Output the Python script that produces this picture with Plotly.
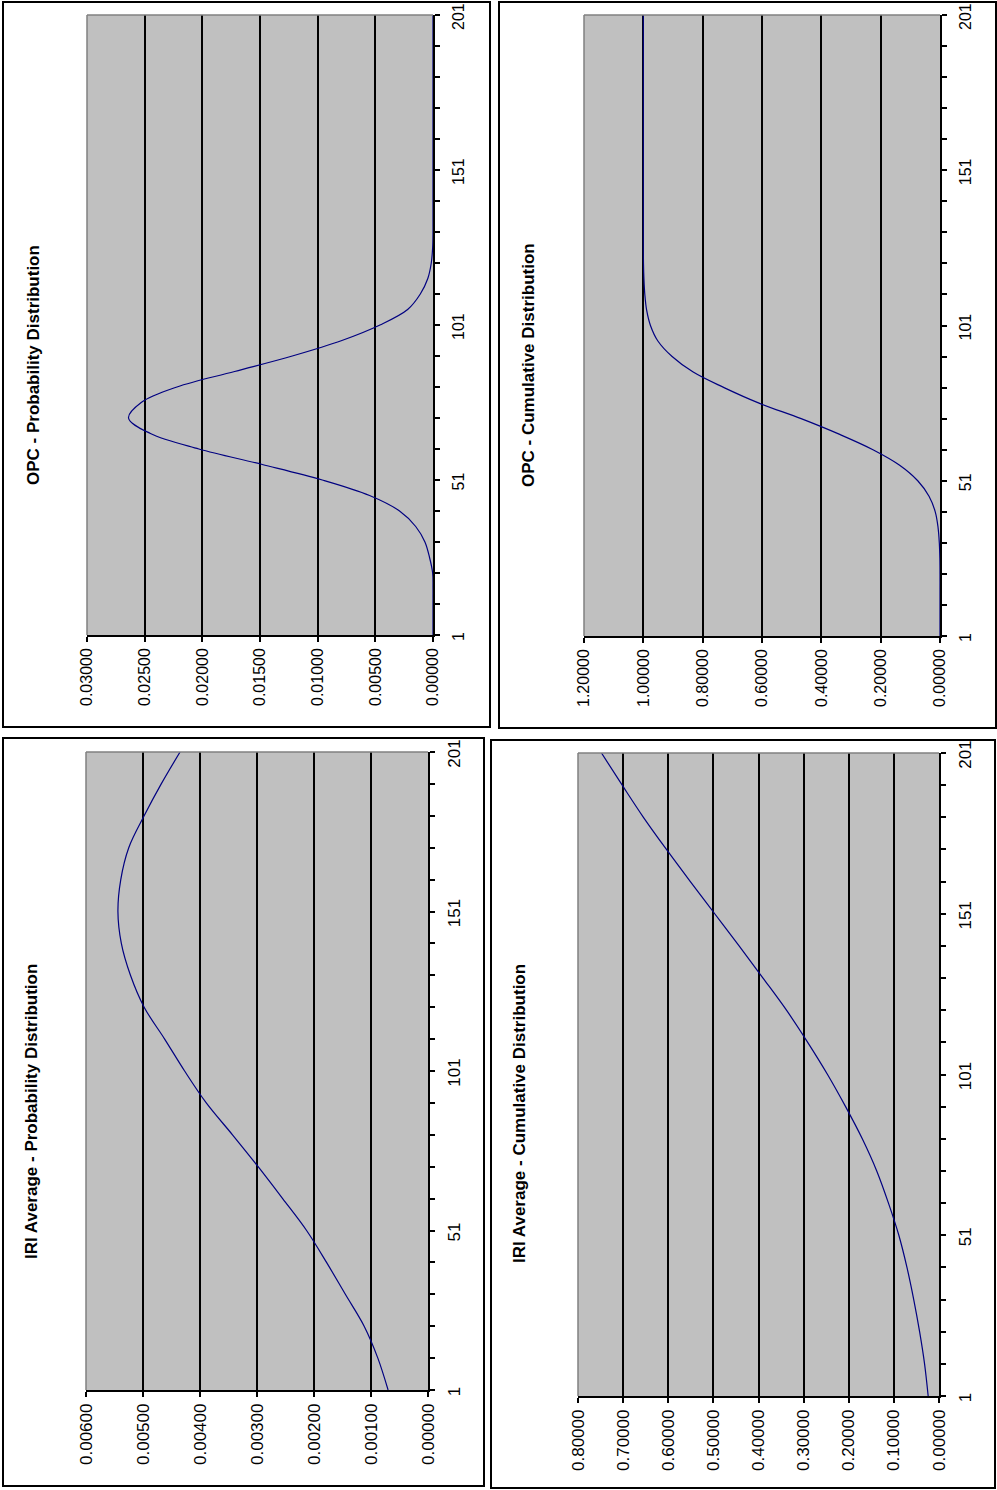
import plotly.graph_objects as go

opc_idx = list(range(1, 202, 5))
iri_idx = list(range(1, 202, 10))
index_ticks = [1, 51, 101, 151, 201]

opc_prob = [0, 0, 0, 0, 0.00003, 0.0003, 0.0007, 0.0015, 0.0029, 0.0055,
            0.0096, 0.0148, 0.0203, 0.0245, 0.0264, 0.0253, 0.0222, 0.0172,
            0.0122, 0.0079, 0.0046, 0.0022, 0.0011, 0.00045, 0.00015,
            0.00003, 0, 0, 0, 0, 0, 0, 0, 0, 0, 0, 0, 0, 0, 0, 0]

opc_cum = [0, 0, 0, 0, 0, 0.0005, 0.0023, 0.0066, 0.016, 0.037,
           0.075, 0.136, 0.226, 0.34, 0.468, 0.61, 0.728, 0.832,
           0.903, 0.951, 0.976, 0.989, 0.995, 0.998, 0.9995,
           1.0, 1.0, 1.0, 1.0, 1.0, 1.0, 1.0, 1.0, 1.0, 1.0, 1.0, 1.0, 1.0, 1.0, 1.0, 1.0]

iri_prob = [0.00070, 0.00088, 0.00112, 0.00145, 0.00178, 0.00213, 0.00255,
            0.00298, 0.00343, 0.00389, 0.00427, 0.00462, 0.00498, 0.00522,
            0.00538, 0.00544, 0.00539, 0.00525, 0.00498, 0.00468, 0.00435]

iri_cum = [0.024, 0.032, 0.043, 0.056, 0.071, 0.089, 0.112, 0.138, 0.170,
           0.207, 0.247, 0.291, 0.338, 0.390, 0.443, 0.497, 0.551, 0.604,
           0.655, 0.702, 0.748]

W, H = 997, 1490
FONT = "Arial, Liberation Sans, sans-serif"


def px(x):
    return x / W


def py(y):
    return 1 - y / H


# (title, idx, values, max, step, plot box px [x0,x1,y0,y1], panel box px, title pos px, font size)
panels = [
    ("OPC - Probability Distribution", opc_idx, opc_prob, 0.03, 0.005,
     (87, 433, 15, 635), (3, 490, 2, 727), (33, 365), 16),
    ("OPC - Cumulative Distribution", opc_idx, opc_cum, 1.2, 0.2,
     (584, 940, 15, 636), (499, 996, 2, 728), (528, 365), 16),
    ("IRI Average - Probability Distribution", iri_idx, iri_prob, 0.006, 0.001,
     (86, 428, 752, 1390), (3, 484, 738, 1486), (31, 1112), 17),
    ("IRI Average - Cumulative Distribution", iri_idx, iri_cum, 0.8, 0.1,
     (578, 939, 753, 1396), (491, 995, 740, 1488), (519, 1114), 17),
]

fig = go.Figure()
layout = {}
shapes = []
annotations = []

for n, (title, idx, vals, vmax, step, box, pbox, tpos, fs) in enumerate(panels, start=1):
    xa = "x" if n == 1 else f"x{n}"
    ya = "y" if n == 1 else f"y{n}"
    fig.add_trace(go.Scatter(
        x=vals, y=idx, mode="lines", xaxis=xa, yaxis=ya,
        line=dict(color="#000080", width=1.2, shape="spline", smoothing=1.0),
        showlegend=False, hoverinfo="skip",
    ))
    layout["xaxis" if n == 1 else f"xaxis{n}"] = dict(
        domain=[px(box[0]), px(box[1])], anchor=ya, automargin=False,
        range=[vmax, 0], tick0=0, dtick=step, tickformat=".5f",
        tickangle=-90, ticks="outside", ticklen=5, tickcolor="black", tickwidth=1.5,
        showline=True, linecolor="black", linewidth=1.5,
        showgrid=True, gridcolor="black", gridwidth=1.5, zeroline=False,
        ticklabelstandoff=0, ticklabeloverflow="allow",
        tickfont=dict(family=FONT, size=fs, color="black"),
        fixedrange=True,
    )
    layout["yaxis" if n == 1 else f"yaxis{n}"] = dict(
        domain=[py(box[3]), py(box[2])], anchor=xa, side="right", automargin=False,
        range=[1, 201], tickmode="array", tickvals=index_ticks,
        tickangle=-90,
        ticks="outside", ticklen=5, tickcolor="black", tickwidth=1.5,
        minor=dict(tick0=1, dtick=10, ticks="outside", ticklen=5,
                   tickcolor="black", tickwidth=1.5, showgrid=False),
        showline=True, linecolor="black", linewidth=1.5,
        showgrid=False, zeroline=False, layer="below traces",
        ticklabelstandoff=5, ticklabelshift=4, ticklabeloverflow="allow",
        tickfont=dict(family=FONT, size=fs, color="black"),
        fixedrange=True,
    )
    # grey plot-area border on the two free edges
    shapes.append(dict(type="line", xref=f"{xa} domain", yref=f"{ya} domain",
                       x0=0, x1=0, y0=0, y1=1, line=dict(color="#808080", width=1.5)))
    shapes.append(dict(type="line", xref=f"{xa} domain", yref=f"{ya} domain",
                       x0=0, x1=1, y0=1, y1=1, line=dict(color="#808080", width=1.5)))
    # chart frame
    shapes.append(dict(type="rect", xref="paper", yref="paper",
                       x0=px(pbox[0]), x1=px(pbox[1]), y0=py(pbox[3]), y1=py(pbox[2]),
                       line=dict(color="black", width=2), fillcolor="rgba(0,0,0,0)"))
    annotations.append(dict(
        text=f"<b>{title}</b>", textangle=-90, xref="paper", yref="paper",
        x=px(tpos[0]), y=py(tpos[1]), xanchor="center", yanchor="middle",
        showarrow=False, font=dict(family=FONT, size=17, color="black"),
    ))

fig.update_layout(
    width=W, height=H,
    margin=dict(l=0, r=0, t=0, b=0, autoexpand=False),
    paper_bgcolor="white", plot_bgcolor="#C0C0C0",
    shapes=shapes, annotations=annotations,
    **layout,
)

fig.write_html("out.html", config={"displayModeBar": False},
               post_script="document.body.style.margin='0';"
                           "document.body.style.overflow='hidden';")
